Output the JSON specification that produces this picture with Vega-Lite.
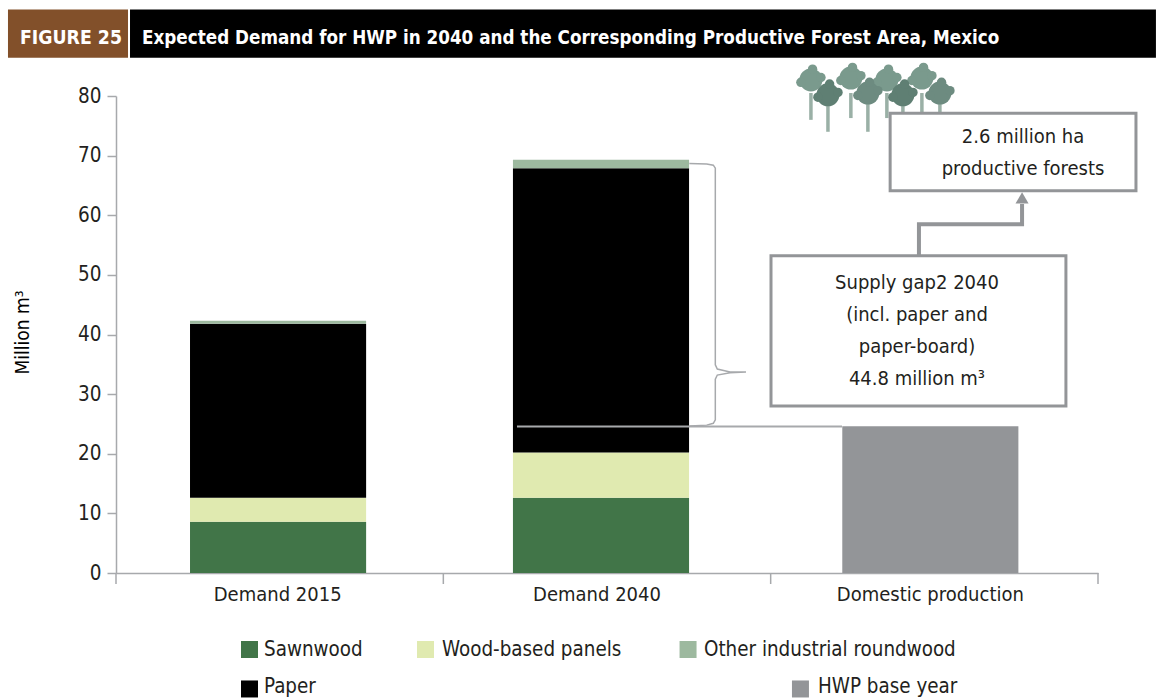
{"$schema":"https://vega.github.io/schema/vega-lite/v6.json","width":982,"height":477,"autosize":{"type":"none"},"padding":{"left":116,"top":96,"right":58,"bottom":125},"background":"white","config":{"view":{"stroke":null},"font":"DejaVu Sans Condensed, Lato"},"resolve":{"scale":{"x":"independent"},"axis":{"x":"independent"}},"layer":[
{"data":{"values":[
{"category":"Demand 2015","segment":"Sawnwood","rank":1,"value":8.6},
{"category":"Demand 2015","segment":"Wood-based panels","rank":2,"value":4.0},
{"category":"Demand 2015","segment":"Paper","rank":3,"value":29.2},
{"category":"Demand 2015","segment":"Other industrial roundwood","rank":4,"value":0.5},
{"category":"Demand 2040","segment":"Sawnwood","rank":1,"value":12.6},
{"category":"Demand 2040","segment":"Wood-based panels","rank":2,"value":7.6},
{"category":"Demand 2040","segment":"Paper","rank":3,"value":47.7},
{"category":"Demand 2040","segment":"Other industrial roundwood","rank":4,"value":1.4},
{"category":"Domestic production","segment":"HWP base year","rank":1,"value":24.6}]},
"mark":{"type":"bar","xOffset":{"expr":"datum.category==='Demand 2015'?-1.6:datum.category==='Demand 2040'?-6:-4"}},
"encoding":{"x":{"field":"category","type":"nominal","sort":null,"title":null,"scale":{"paddingInner":0.462,"paddingOuter":0.231},"axis":{"labelAngle":0,"labelLimit":0,"domainColor":"#a7a9ac","domainWidth":1.5,"ticks":false,"labelFontSize":20,"labelColor":"#231f20","labelPadding":11,"labelOffset":{"expr":"datum.value==='Demand 2015'?-2:datum.value==='Demand 2040'?-10:-4"}}},
"y":{"field":"value","type":"quantitative","stack":"zero","title":"Million m³","scale":{"domain":[0,80]},"axis":{"values":[0,10,20,30,40,50,60,70,80],"grid":false,"title":"Million m³","titleFontSize":19,"titleColor":"#000000","titleX":-84,"titleY":236,"titleFontWeight":"normal","labelFontSize":20.5,"labelColor":"#231f20","labelPadding":6,"domainColor":"#a7a9ac","domainWidth":1.5,"tickColor":"#a7a9ac","tickWidth":1.5,"tickSize":9}},
"color":{"field":"segment","type":"nominal","legend":null,"scale":{"domain":["Sawnwood","Wood-based panels","Other industrial roundwood","Paper","HWP base year"],"range":["#417548","#e0eab0","#9db99f","#000000","#939598"]}},
"order":{"field":"rank","type":"quantitative"}}},
{"data":{"values":[{"x":0},{"x":1},{"x":2},{"x":3}]},
"mark":{"type":"rule","color":"#a7a9ac","strokeWidth":1.5},
"encoding":{"x":{"field":"x","type":"quantitative","scale":{"domain":[0,3]},"axis":null},"y":{"datum":0,"type":"quantitative","title":"Million m³"},"y2":{"datum":-1.85}}},
{"data":{"values":[
{"x":-0.330,"x2":0.0367,"y":94.5,"y2":86.4,"c":"#82502a"},
{"x":0.0428,"x2":3.177,"y":94.5,"y2":86.4,"c":"#000000"}]},
"mark":{"type":"rect","clip":false},
"encoding":{"x":{"field":"x","type":"quantitative","scale":{"domain":[0,3]},"axis":null},"x2":{"field":"x2"},"y":{"field":"y","type":"quantitative","title":"Million m³"},"y2":{"field":"y2"},"fill":{"field":"c","type":"nominal","scale":null}}},
{"data":{"values":[
{"x":2.123,"y":80.5,"y2":76.0},{"x":2.175,"y":78.8,"y2":74.0},{"x":2.245,"y":80.5,"y2":76.3},{"x":2.297,"y":78.8,"y2":74.0},{"x":2.355,"y":80.5,"y2":76.3},{"x":2.404,"y":78.8,"y2":76.0},{"x":2.462,"y":80.5,"y2":76.8},{"x":2.517,"y":78.8,"y2":76.8}]},
"mark":{"type":"rule","color":"#9ab0a6","strokeWidth":3.5},
"encoding":{"x":{"field":"x","type":"quantitative","scale":{"domain":[0,3]},"axis":null},"y":{"field":"y","type":"quantitative","title":"Million m³"},"y2":{"field":"y2"}}},
{"data":{"values":[
{"x":2.123,"y":82.7,"c":"#7a9a8d","s":530},{"x":2.245,"y":83.0,"c":"#7a9a8d","s":530},{"x":2.355,"y":82.7,"c":"#7a9a8d","s":530},{"x":2.462,"y":83.0,"c":"#7a9a8d","s":530},
{"x":2.0924,"y":82.3,"c":"#7a9a8d","s":90},{"x":2.1536,"y":83.1,"c":"#7a9a8d","s":90},{"x":2.128,"y":84.5,"c":"#7a9a8d","s":90},
{"x":2.2144,"y":82.6,"c":"#7a9a8d","s":90},{"x":2.2756,"y":83.4,"c":"#7a9a8d","s":90},{"x":2.25,"y":84.8,"c":"#7a9a8d","s":90},
{"x":2.3244,"y":82.3,"c":"#7a9a8d","s":90},{"x":2.3856,"y":83.1,"c":"#7a9a8d","s":90},{"x":2.36,"y":84.5,"c":"#7a9a8d","s":90},
{"x":2.4314,"y":82.6,"c":"#7a9a8d","s":90},{"x":2.4926,"y":83.4,"c":"#7a9a8d","s":90},{"x":2.467,"y":84.8,"c":"#7a9a8d","s":90},
{"x":2.175,"y":80.2,"c":"#5f7f73","s":530},{"x":2.297,"y":80.5,"c":"#6d8b80","s":530},{"x":2.404,"y":80.2,"c":"#5f7f73","s":530},{"x":2.517,"y":80.5,"c":"#6d8b80","s":530},
{"x":2.1444,"y":79.8,"c":"#5f7f73","s":90},{"x":2.2056,"y":80.6,"c":"#5f7f73","s":90},{"x":2.18,"y":82.0,"c":"#5f7f73","s":90},
{"x":2.2664,"y":80.1,"c":"#6d8b80","s":90},{"x":2.3276,"y":80.9,"c":"#6d8b80","s":90},{"x":2.302,"y":82.3,"c":"#6d8b80","s":90},
{"x":2.3734,"y":79.8,"c":"#5f7f73","s":90},{"x":2.4346,"y":80.6,"c":"#5f7f73","s":90},{"x":2.409,"y":82.0,"c":"#5f7f73","s":90},
{"x":2.4864,"y":80.1,"c":"#6d8b80","s":90},{"x":2.5476,"y":80.9,"c":"#6d8b80","s":90},{"x":2.522,"y":82.3,"c":"#6d8b80","s":90}]},
"mark":{"type":"point","shape":"circle","filled":true,"opacity":1},
"encoding":{"x":{"field":"x","type":"quantitative","scale":{"domain":[0,3]},"axis":null},"y":{"field":"y","type":"quantitative","title":"Million m³"},"fill":{"field":"c","type":"nominal","scale":null},"size":{"field":"s","type":"quantitative","legend":null,"scale":{"type":"linear","domain":[0,1000],"range":[0,1000]}}}},
{"data":{"values":[{"x":2.001,"x2":2.902,"y":53.2,"y2":28.0},{"x":2.365,"x2":3.116,"y":77.1,"y2":64.1}]},
"mark":{"type":"rect","fill":"white","stroke":"#939598","strokeWidth":3},
"encoding":{"x":{"field":"x","type":"quantitative","scale":{"domain":[0,3]},"axis":null},"x2":{"field":"x2"},"y":{"field":"y","type":"quantitative","title":"Million m³"},"y2":{"field":"y2"}}},
{"data":{"values":[{"x":1.225,"x2":2.218,"y":24.57}]},
"mark":{"type":"rule","color":"#a7a9ac","strokeWidth":2},
"encoding":{"x":{"field":"x","type":"quantitative","scale":{"domain":[0,3]},"axis":null},"x2":{"field":"x2"},"y":{"field":"y","type":"quantitative","title":"Million m³"}}},
{"data":{"values":[
{"n":1,"x":1.7515,"y":68.7},{"n":2,"x":1.8046,"y":68.6},{"n":3,"x":1.8248,"y":68.4},{"n":4,"x":1.8309,"y":67.9},{"n":5,"x":1.8309,"y":34.9},{"n":6,"x":1.837,"y":34.2},{"n":7,"x":1.8758,"y":33.7},{"n":8,"x":1.9247,"y":33.7},{"n":9,"x":1.8758,"y":33.6},{"n":10,"x":1.837,"y":33.2},{"n":11,"x":1.8309,"y":32.5},{"n":12,"x":1.8309,"y":25.7},{"n":13,"x":1.8248,"y":25.1},{"n":14,"x":1.8046,"y":24.8},{"n":15,"x":1.7515,"y":24.65}]},
"mark":{"type":"line","color":"#a7a9ac","strokeWidth":1.5},
"encoding":{"x":{"field":"x","type":"quantitative","scale":{"domain":[0,3]},"axis":null},"y":{"field":"y","type":"quantitative","title":"Million m³"},"order":{"field":"n","type":"quantitative"}}},
{"data":{"values":[{"n":1,"x":2.453,"y":53.2},{"n":2,"x":2.453,"y":58.5},{"n":3,"x":2.768,"y":58.5},{"n":4,"x":2.768,"y":61.9}]},
"mark":{"type":"line","color":"#939598","strokeWidth":4},
"encoding":{"x":{"field":"x","type":"quantitative","scale":{"domain":[0,3]},"axis":null},"y":{"field":"y","type":"quantitative","title":"Million m³"},"order":{"field":"n","type":"quantitative"}}},
{"data":{"values":[{"x":2.768,"y":62.9}]},
"mark":{"type":"point","shape":"triangle-up","filled":true,"color":"#939598","size":170,"opacity":1},
"encoding":{"x":{"field":"x","type":"quantitative","scale":{"domain":[0,3]},"axis":null},"y":{"field":"y","type":"quantitative","title":"Million m³"}}},
{"data":{"values":[
{"x":0.4078,"y":-12.83,"segment":"Sawnwood"},{"x":0.9455,"y":-12.83,"segment":"Wood-based panels"},{"x":1.7476,"y":-12.83,"segment":"Other industrial roundwood"},{"x":0.4078,"y":-19.45,"segment":"Paper"},{"x":2.091,"y":-19.45,"segment":"HWP base year"}]},
"mark":{"type":"point","shape":"square","filled":true,"size":289,"opacity":1},
"encoding":{"x":{"field":"x","type":"quantitative","scale":{"domain":[0,3]},"axis":null},"y":{"field":"y","type":"quantitative","title":"Million m³"},"color":{"field":"segment","type":"nominal","legend":null}}},
{"data":{"values":[
{"x":0.4521,"y":-12.9,"t":"Sawnwood"},{"x":0.9959,"y":-12.9,"t":"Wood-based panels"},{"x":1.7963,"y":-12.9,"t":"Other industrial roundwood"},{"x":0.4521,"y":-19.1,"t":"Paper"},{"x":2.1446,"y":-19.1,"t":"HWP base year"}]},
"mark":{"type":"text","align":"left","baseline":"middle","fontSize":20.4,"color":"#231f20"},
"encoding":{"x":{"field":"x","type":"quantitative","scale":{"domain":[0,3]},"axis":null},"y":{"field":"y","type":"quantitative","title":"Million m³"},"text":{"field":"t"}}},
{"data":{"values":[
{"x":2.447,"y":48.6,"t":"Supply gap2 2040"},{"x":2.447,"y":43.3,"t":"(incl. paper and"},{"x":2.447,"y":37.9,"t":"paper-board)"},{"x":2.447,"y":32.5,"t":"44.8 million m³"},{"x":2.771,"y":73.1,"t":"2.6 million ha"},{"x":2.771,"y":67.8,"t":"productive forests"}]},
"mark":{"type":"text","align":"center","baseline":"middle","fontSize":20,"color":"#231f20"},
"encoding":{"x":{"field":"x","type":"quantitative","scale":{"domain":[0,3]},"axis":null},"y":{"field":"y","type":"quantitative","title":"Million m³"},"text":{"field":"t"}}},
{"data":{"values":[{"x":-0.1375,"y":89.7,"t":"FIGURE 25"}]},
"mark":{"type":"text","align":"center","baseline":"middle","fontSize":19.3,"fontWeight":"bold","color":"white"},
"encoding":{"x":{"field":"x","type":"quantitative","scale":{"domain":[0,3]},"axis":null},"y":{"field":"y","type":"quantitative","title":"Million m³"},"text":{"field":"t"}}},
{"data":{"values":[{"x":0.0794,"y":89.7,"t":"Expected Demand for HWP in 2040 and the Corresponding Productive Forest Area, Mexico"}]},
"mark":{"type":"text","align":"left","baseline":"middle","fontSize":18.7,"fontWeight":"bold","color":"white"},
"encoding":{"x":{"field":"x","type":"quantitative","scale":{"domain":[0,3]},"axis":null},"y":{"field":"y","type":"quantitative","title":"Million m³"},"text":{"field":"t"}}}
]}
